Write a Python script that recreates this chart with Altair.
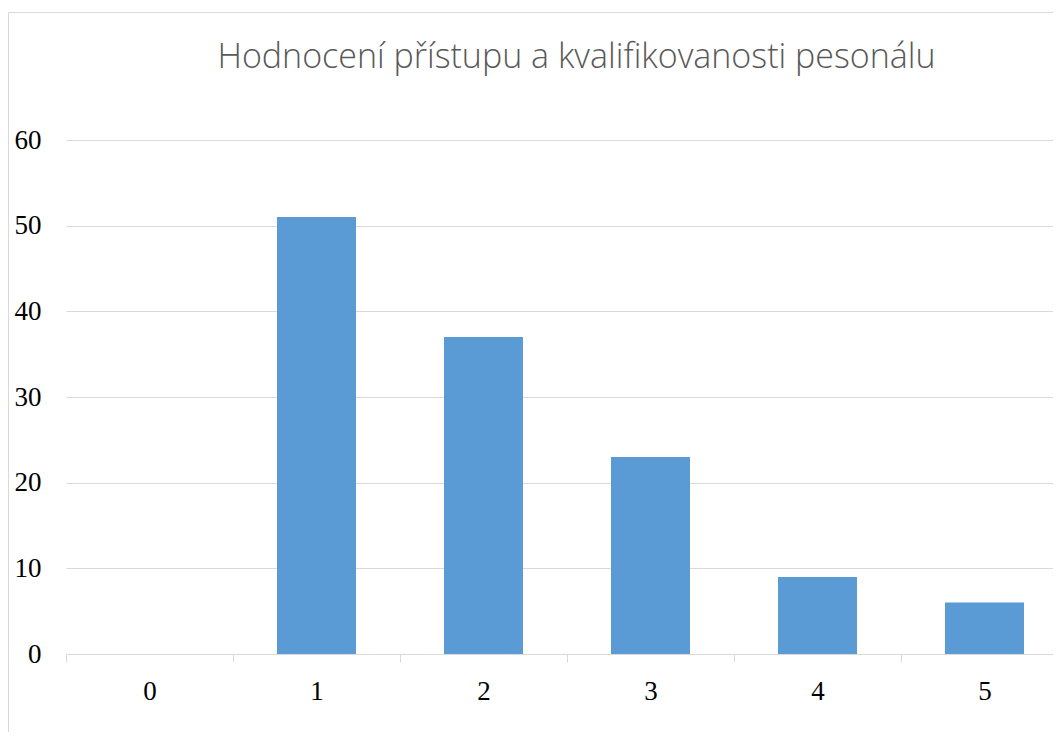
import altair as alt
import pandas as pd

categories = ["0", "1", "2", "3", "4", "5"]
counts = [0, 51, 37, 23, 9, 6]
y_ticks = [0, 10, 20, 30, 40, 50, 60]
title_text = "Hodnocení přístupu a kvalifikovanosti pesonálu"

df = pd.DataFrame({"kategorie": categories, "pocet": counts})

PLOT_W = 987
PLOT_H = 514
GRID = "#d9d9d9"
SERIF = "Liberation Serif"

frame = alt.Chart(pd.DataFrame({"a": [0]})).mark_rect(
    fill="transparent", stroke=GRID, strokeWidth=1
).encode(
    x=alt.value(-57.5), x2=alt.value(1200), y=alt.value(-127.5), y2=alt.value(800)
)

bars = alt.Chart(df).mark_bar(color="#5b9bd5", width=alt.RelativeBandSize(0.473)).encode(
    x=alt.X(
        "kategorie:N", sort=categories, title=None,
        scale=alt.Scale(range=[0, 1002], paddingInner=0, paddingOuter=0),
        axis=alt.Axis(
            labelAngle=0, tickBand="extent", domainColor=GRID, domainWidth=1,
            tickColor=GRID, tickWidth=1, tickSize=8, grid=False,
            labelFont=SERIF, labelFontSize=27, labelColor="#000000", labelPadding=16,
        ),
    ),
    y=alt.Y(
        "pocet:Q", title=None,
        scale=alt.Scale(domain=[0, 60], nice=False),
        axis=alt.Axis(
            values=y_ticks, grid=True, gridColor=GRID, gridWidth=1, domain=False, ticks=False,
            labelFont=SERIF, labelFontSize=27, labelColor="#000000", labelPadding=25,
        ),
    ),
)

chart = alt.layer(frame, bars).properties(
    width=PLOT_W,
    height=PLOT_H,
    autosize=alt.AutoSizeParams(type="none"),
    padding={"left": 58, "top": 132, "right": 0, "bottom": 78},
    title=alt.TitleParams(
        text=title_text, font="Open Sans", fontSize=34, fontWeight=300,
        color="#595959", anchor="middle", baseline="alphabetic", offset=-89.5, dx=17,
    ),
).configure_view(strokeWidth=0)

chart.save("out.html", embed_options={"renderer": "svg", "actions": False})
